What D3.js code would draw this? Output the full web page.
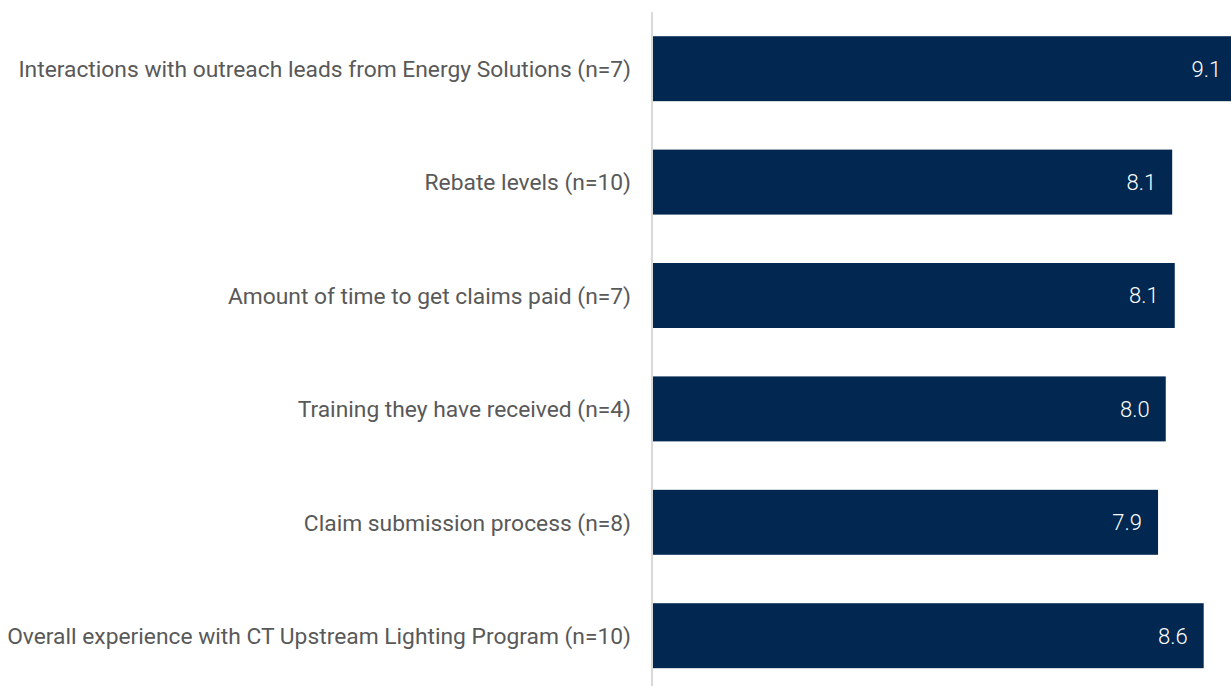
<!DOCTYPE html>
<html>
<head>
<meta charset="utf-8">
<script src="https://cdn.jsdelivr.net/npm/d3@7"></script>
<style>
  body { margin: 0; background: #fff; }
  svg { display: block; }
</style>
</head>
<body>
<svg width="1231" height="686"></svg>
<script>
// categories top to bottom, and mean ratings
const categories = [
  'Interactions with outreach leads from Energy Solutions (n=7)',
  'Rebate levels (n=10)',
  'Amount of time to get claims paid (n=7)',
  'Training they have received (n=4)',
  'Claim submission process (n=8)',
  'Overall experience with CT Upstream Lighting Program (n=10)'
]
const ratings = [9.10, 8.09, 8.13, 7.99, 7.87, 8.58]

const data = categories.map((c, i) => ({ category: c, value: ratings[i] }))

const svg = d3.select('svg')
const width = +svg.attr('width')
const height = +svg.attr('height')

const axisX = 652

const xScale = d3.scaleLinear()
  .domain([0, 10])
  .range([axisX, axisX + 643])

const yScale = d3.scaleBand()
  .domain(categories)
  .range([12, 692.4])
  .paddingInner(0.427)
  .paddingOuter(0.2135)

const fmt = d3.format('.1f')

// bars
svg.selectAll('rect.bar').data(data)
  .enter().append('rect')
    .attr('class', 'bar')
    .attr('x', xScale(0) + 1)
    .attr('y', d => yScale(d.category))
    .attr('width', d => xScale(d.value) - xScale(0) - 1)
    .attr('height', yScale.bandwidth())
    .attr('fill', '#022851')

// value labels inside bar ends
svg.selectAll('text.value').data(data)
  .enter().append('text')
    .attr('class', 'value')
    .attr('x', d => xScale(d.value) - 16)
    .attr('y', d => yScale(d.category) + yScale.bandwidth() / 2)
    .attr('dy', '0.36em')
    .attr('text-anchor', 'end')
    .attr('fill', '#ffffff')
    .style('font-family', 'Roboto, "Liberation Sans", sans-serif')
    .style('font-size', '22px')
    .style('font-weight', 300)
    .text(d => fmt(d.value))

// category axis, left
const yAxis = d3.axisLeft(yScale).tickSize(0).tickPadding(21)
const g = svg.append('g')
  .attr('transform', `translate(${axisX},0)`)
  .call(yAxis)

g.select('.domain')
  .attr('d', `M0,12V${height + 10}`)
  .attr('stroke', '#d9d9d9')
  .attr('stroke-width', 2)

g.selectAll('.tick text')
  .attr('fill', '#595959')
  .attr('dy', '0.36em')
  .style('font-family', 'Roboto, "Liberation Sans", sans-serif')
  .style('font-size', '22.8px')
</script>
</body>
</html>
